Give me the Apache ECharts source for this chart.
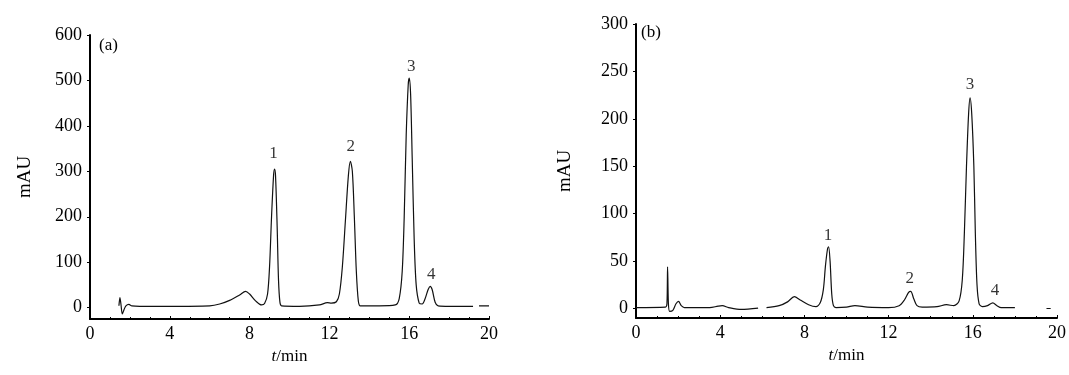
<!DOCTYPE html>
<html>
<head>
<meta charset="utf-8">
<script src="https://cdn.jsdelivr.net/npm/echarts@6/dist/echarts.min.js"></script>
<style>
html,body{margin:0;padding:0;background:#fff;}
#chart{width:1069px;height:375px;}
</style>
</head>
<body>
<div id="chart"></div>
<script>
// ---------- data ----------
// Panel (a): chromatogram, [time/min, mAU]
var traceA = [
  [1.45,4],[1.5,22],[1.55,8],[1.62,-14],[1.7,-5],[1.8,4],[1.95,7],[2.1,4],[2.5,3],[4,3],[6,4],
  [6.5,8],[7.0,16],[7.5,28],[7.8,36],[8.0,30],[8.3,15],[8.6,6],[8.75,9],[8.9,30],[9.0,90],
  [9.1,200],[9.2,290],[9.25,305],[9.3,290],[9.38,180],[9.45,60],[9.52,12],[9.6,4],
  [10.5,3],[11.5,6],[11.9,11],[12.1,10],[12.35,13],[12.5,30],[12.65,90],[12.8,190],
  [12.95,290],[13.05,322],[13.15,300],[13.25,200],[13.35,80],[13.45,15],[13.55,4],
  [14.5,4],[15.3,6],[15.5,20],[15.65,80],[15.75,200],[15.85,380],[15.95,490],[16.0,505],
  [16.07,470],[16.15,330],[16.25,150],[16.35,50],[16.5,10],[16.65,8],[16.8,20],[16.95,40],
  [17.05,47],[17.15,40],[17.3,12],[17.45,4],[18,3],[19.2,3],[19.3,null],[19.5,4],[20,4]
];
// Panel (b): chromatogram, [time/min, mAU]
var traceB = [
  [0,1],[1.4,1.5],[1.47,5],[1.5,44],[1.54,5],[1.6,-3],[1.75,-2],[1.9,5],[2.02,7.5],[2.15,3],
  [2.3,1],[3.5,1],[3.9,2.5],[4.1,3],[4.4,1],[5.0,-1],[5.8,0.5],[6.0,null],[6.2,1],[6.8,3],
  [7.2,7],[7.52,12.5],[7.8,9],[8.2,4],[8.55,2],[8.75,6],[8.9,20],[9.0,45],[9.1,63],[9.15,65],
  [9.22,50],[9.3,15],[9.38,3],[9.5,1],[10.0,1.5],[10.4,3],[11,1.5],[12,1],[12.5,3],[12.75,9],
  [12.95,17],[13.05,18],[13.2,10],[13.35,3],[13.6,1.5],[14.3,2],[14.75,4],[15.1,3],[15.35,8],
  [15.5,30],[15.6,80],[15.7,150],[15.8,205],[15.87,222],[15.95,205],[16.05,150],[16.12,80],
  [16.2,25],[16.3,5],[16.45,2],[16.7,3],[16.95,6],[17.15,3],[17.35,1],[18.0,1],[18.5,null],
  [19.5,0],[19.7,0]
];
// Peak number labels: [time, mAU, text]
var peaksA = [[9.2,340,'1'],[13.07,354,'2'],[16.1,530,'3'],[17.1,72,'4']];
var peaksB = [[9.12,77,'1'],[13.0,32,'2'],[15.87,236,'3'],[17.05,19,'4']];
// Tick labels
var xTicks = [0,4,8,12,16,20];
var yTicksA = [0,100,200,300,400,500,600];
var yTicksB = [0,50,100,150,200,250,300];
var panelTags = ['(a)','(b)'];
var yName = 'mAU';

// ---------- chart ----------
var FONT = '"Liberation Serif","DejaVu Serif",serif';
var chart = echarts.init(document.getElementById('chart'), null, {renderer:'canvas'});

function xAxisCfg(idx){
  return {
    gridIndex: idx, type:'value', min:0, max:20, interval:4,
    name:'{i|t}/min', nameLocation:'middle', nameGap:24,
    nameTextStyle:{color:'#000', fontFamily:FONT, fontSize:17,
      rich:{i:{fontStyle:'italic', fontFamily:FONT, fontSize:17, color:'#000'}}},
    axisLine:{onZero:false, lineStyle:{color:'#000', width:2}},
    axisTick:{show:true, inside:true, length:3, lineStyle:{color:'#000'}},
    minorTick:{show:true, splitNumber:4, length:2, lineStyle:{color:'#000'}},
    axisLabel:{color:'#000', fontFamily:FONT, fontSize:18, margin:6},
    splitLine:{show:false}
  };
}
function yAxisCfg(idx, min, max, ticks, gap){
  return {
    gridIndex: idx, type:'value', min:min, max:max,
    name:yName, nameLocation:'middle', nameGap:gap,
    nameTextStyle:{color:'#000', fontFamily:FONT, fontSize:19},
    axisLine:{show:true, lineStyle:{color:'#000', width:2}},
    axisTick:{show:true, customValues:ticks, length:3, lineStyle:{color:'#000'}},
    axisLabel:{color:'#000', fontFamily:FONT, fontSize:18, margin:8, customValues:ticks},
    splitLine:{show:false}
  };
}
function lineSeries(idx, data){
  return {type:'line', xAxisIndex:idx, yAxisIndex:idx, data:data, showSymbol:false,
    symbol:'none', smooth:0.3, connectNulls:false,
    lineStyle:{color:'#111', width:1.2}, silent:true, animation:false};
}
function labelSeries(idx, data){
  return {type:'scatter', xAxisIndex:idx, yAxisIndex:idx, data:data, symbolSize:1,
    itemStyle:{color:'rgba(0,0,0,0)'}, silent:true, animation:false,
    label:{show:true, position:'inside', color:'#000', fontFamily:FONT, fontSize:17,
      formatter:function(p){return p.data[2];}}};
}

chart.setOption({
  backgroundColor:'#fff',
  animation:false,
  grid:[
    {left:90, top:35, width:399, bottom:56},
    {left:636, top:24, width:421, bottom:57}
  ],
  xAxis:[xAxisCfg(0), xAxisCfg(1)],
  yAxis:[yAxisCfg(0,-25,600,yTicksA,55), yAxisCfg(1,-10,300,yTicksB,61)],
  graphic:[
    {type:'text', left:99, top:37, style:{text:panelTags[0], fill:'#000', font:'17px '+FONT}},
    {type:'text', left:641, top:24, style:{text:panelTags[1], fill:'#000', font:'17px '+FONT}}
  ],
  series:[
    lineSeries(0, traceA), lineSeries(1, traceB),
    labelSeries(0, peaksA), labelSeries(1, peaksB)
  ]
});
</script>
</body>
</html>
